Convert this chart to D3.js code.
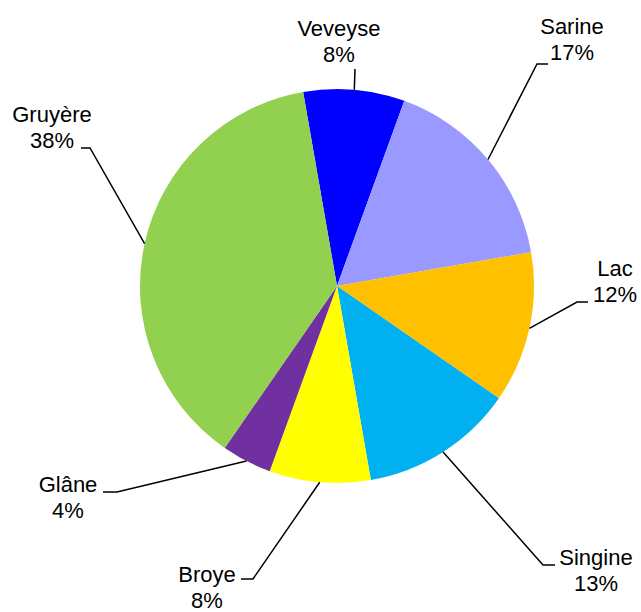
<!DOCTYPE html>
<html>
<head>
<meta charset="utf-8">
<script src="https://cdn.jsdelivr.net/npm/d3@7"></script>
<style>
  body { margin: 0; background: #fff; }
  #chart text { font-family: "Liberation Sans", Arial, sans-serif; fill: #000; }
</style>
</head>
<body>
<div id="chart"></div>
<script>
// districts, clockwise from the top
const districts = ['Veveyse', 'Sarine', 'Lac', 'Singine', 'Broye', 'Glâne', 'Gruyère'];
const shares = [8.3, 16.7, 12.4, 12.6, 8.3, 4.1, 37.6];
const percentLabels = ['8%', '17%', '12%', '13%', '8%', '4%', '38%'];
const sliceColors = ['#0000ff', '#9999ff', '#ffc000', '#00b0f0', '#ffff00', '#7030a0', '#92d050'];

// label placement (text centre + first baseline, leader elbow, leader tick end)
const labelLayout = {
  'Veveyse': { x: 339, y: 36, elbow: [355, 69], tick: null },
  'Sarine':  { x: 572, y: 34, elbow: [537, 64], tick: [548, 64] },
  'Lac':     { x: 615, y: 276, elbow: [577, 302], tick: [588, 302] },
  'Singine': { x: 596, y: 565, elbow: [543, 565], tick: [555, 565] },
  'Broye':   { x: 207, y: 582, elbow: [253, 579], tick: [241, 579] },
  'Glâne':   { x: 68, y: 492, elbow: [117, 492], tick: [103, 492] },
  'Gruyère': { x: 52, y: 122, elbow: [90, 148], tick: [81, 148] }
};

const width = 641, height = 612;
const center = { x: 337, y: 286 };
const radius = 197;
const startDeg = -9.9;

const data = districts.map((name, i) => ({
  name: name,
  value: shares[i],
  label: percentLabels[i],
  color: sliceColors[i]
}));

const svg = d3.select('#chart').append('svg')
  .attr('width', width)
  .attr('height', height);

const pie = d3.pie()
  .sort(null)
  .value(d => d.value)
  .startAngle(startDeg * Math.PI / 180)
  .endAngle((startDeg + 360) * Math.PI / 180);

const arc = d3.arc().innerRadius(0).outerRadius(radius);
const edgeArc = d3.arc().innerRadius(radius).outerRadius(radius);

const arcs = pie(data);

const pieG = svg.append('g')
  .attr('transform', `translate(${center.x}, ${center.y})`);

pieG.selectAll('path.slice')
  .data(arcs)
  .enter()
  .append('path')
  .classed('slice', true)
  .attr('d', arc)
  .attr('fill', d => d.data.color);

// leader lines
const line = d3.line();
svg.selectAll('path.leader')
  .data(arcs)
  .enter()
  .append('path')
  .classed('leader', true)
  .attr('d', d => {
    const lay = labelLayout[d.data.name];
    const p = edgeArc.centroid(d);
    const pts = [[p[0] + center.x, p[1] + center.y], lay.elbow];
    if (lay.tick) pts.push(lay.tick);
    return line(pts);
  })
  .attr('fill', 'none')
  .attr('stroke', '#000')
  .attr('stroke-width', 1.5);

// labels
const labels = svg.selectAll('text.label')
  .data(arcs)
  .enter()
  .append('text')
  .classed('label', true)
  .attr('text-anchor', 'middle')
  .attr('font-size', 22)
  .attr('x', d => labelLayout[d.data.name].x)
  .attr('y', d => labelLayout[d.data.name].y);

labels.append('tspan')
  .attr('x', d => labelLayout[d.data.name].x)
  .text(d => d.data.name);

labels.append('tspan')
  .attr('x', d => labelLayout[d.data.name].x)
  .attr('dy', 26)
  .text(d => d.data.label);
</script>
</body>
</html>
